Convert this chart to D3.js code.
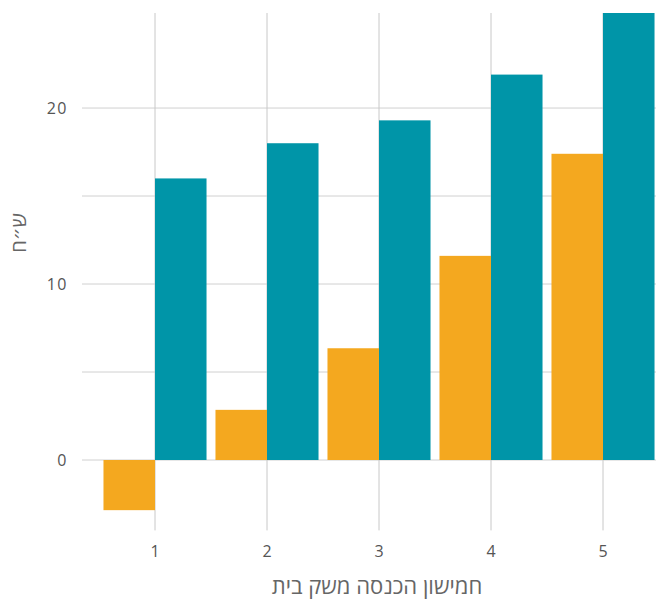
<!DOCTYPE html>
<html>
<head>
<meta charset="utf-8">
<script src="https://cdn.jsdelivr.net/npm/d3@7"></script>
<style>
  body { margin: 0; background: #fff; }
  text { font-family: "Open Sans", "DejaVu Sans", sans-serif; }
</style>
</head>
<body>
<div id="chart"></div>
<script>
const quintiles = ["1", "2", "3", "4", "5"];
const seriesKeys = ["a", "b"];
const valuesA = [-2.85, 2.85, 6.35, 11.6, 17.4];
const valuesB = [16.0, 18.0, 19.3, 21.9, 25.4];
const yTicks = [0, 10, 20];
const yGrid = [0, 5, 10, 15, 20];
const yTitle = "ש״ח";
const xTitle = "חמישון הכנסה משק בית";

const W = 656, H = 599;
const colors = { a: "#F4A81F", b: "#0095A8" };

const svg = d3.select("#chart").append("svg")
    .attr("width", W)
    .attr("height", H);

const rows = quintiles.map((q, i) => ({ q: q, a: valuesA[i], b: valuesB[i] }));

// step 112, first centre at 155
const x0 = d3.scaleBand()
    .domain(quintiles)
    .range([99, 659])
    .paddingInner(0.08)
    .paddingOuter(0.04);

const x1 = d3.scaleBand()
    .domain(seriesKeys)
    .range([0, x0.bandwidth()]);

const y = d3.scaleLinear()
    .domain([-4, 25.4])
    .range([530.4, 13]);

// horizontal grid
svg.append("g")
    .selectAll("line")
    .data(yGrid)
    .join("line")
    .attr("x1", 82)
    .attr("x2", W)
    .attr("y1", d => y(d))
    .attr("y2", d => y(d))
    .attr("stroke", "#d0d0d0")
    .attr("stroke-width", 1);

// vertical grid
svg.append("g")
    .selectAll("line")
    .data(quintiles)
    .join("line")
    .attr("x1", d => x0(d) + x0.bandwidth() / 2)
    .attr("x2", d => x0(d) + x0.bandwidth() / 2)
    .attr("y1", y(25.4))
    .attr("y2", y(-4))
    .attr("stroke", "#c8c8c8")
    .attr("stroke-width", 1);

// bars
svg.append("g")
    .selectAll("g")
    .data(rows)
    .join("g")
    .attr("transform", d => `translate(${x0(d.q)},0)`)
    .selectAll("rect")
    .data(d => seriesKeys.map(k => ({ key: k, value: d[k] })))
    .join("rect")
    .attr("x", d => x1(d.key))
    .attr("width", x1.bandwidth())
    .attr("y", d => y(Math.max(0, d.value)))
    .attr("height", d => Math.abs(y(d.value) - y(0)))
    .attr("fill", d => colors[d.key]);

// y tick labels
svg.append("g")
    .selectAll("text")
    .data(yTicks)
    .join("text")
    .attr("x", 68)
    .attr("y", d => y(d))
    .attr("dy", "0.35em")
    .attr("text-anchor", "end")
    .style("font-size", "16px")
    .style("letter-spacing", "1.5px")
    .style("fill", "#555")
    .text(d => d);

// x tick labels
svg.append("g")
    .selectAll("text")
    .data(quintiles)
    .join("text")
    .attr("x", d => x0(d) + x0.bandwidth() / 2)
    .attr("y", 557)
    .attr("text-anchor", "middle")
    .style("font-size", "16px")
    .style("fill", "#555")
    .text(d => d);

// axis titles
svg.append("text")
    .attr("transform", "translate(26,233) rotate(-90)")
    .attr("text-anchor", "middle")
    .style("font-size", "20px")
    .style("fill", "#666")
    .text(yTitle);

svg.append("text")
    .attr("x", 377)
    .attr("y", 594)
    .attr("text-anchor", "middle")
    .attr("direction", "rtl")
    .style("font-size", "22px")
    .style("fill", "#666")
    .text(xTitle);
</script>
</body>
</html>
